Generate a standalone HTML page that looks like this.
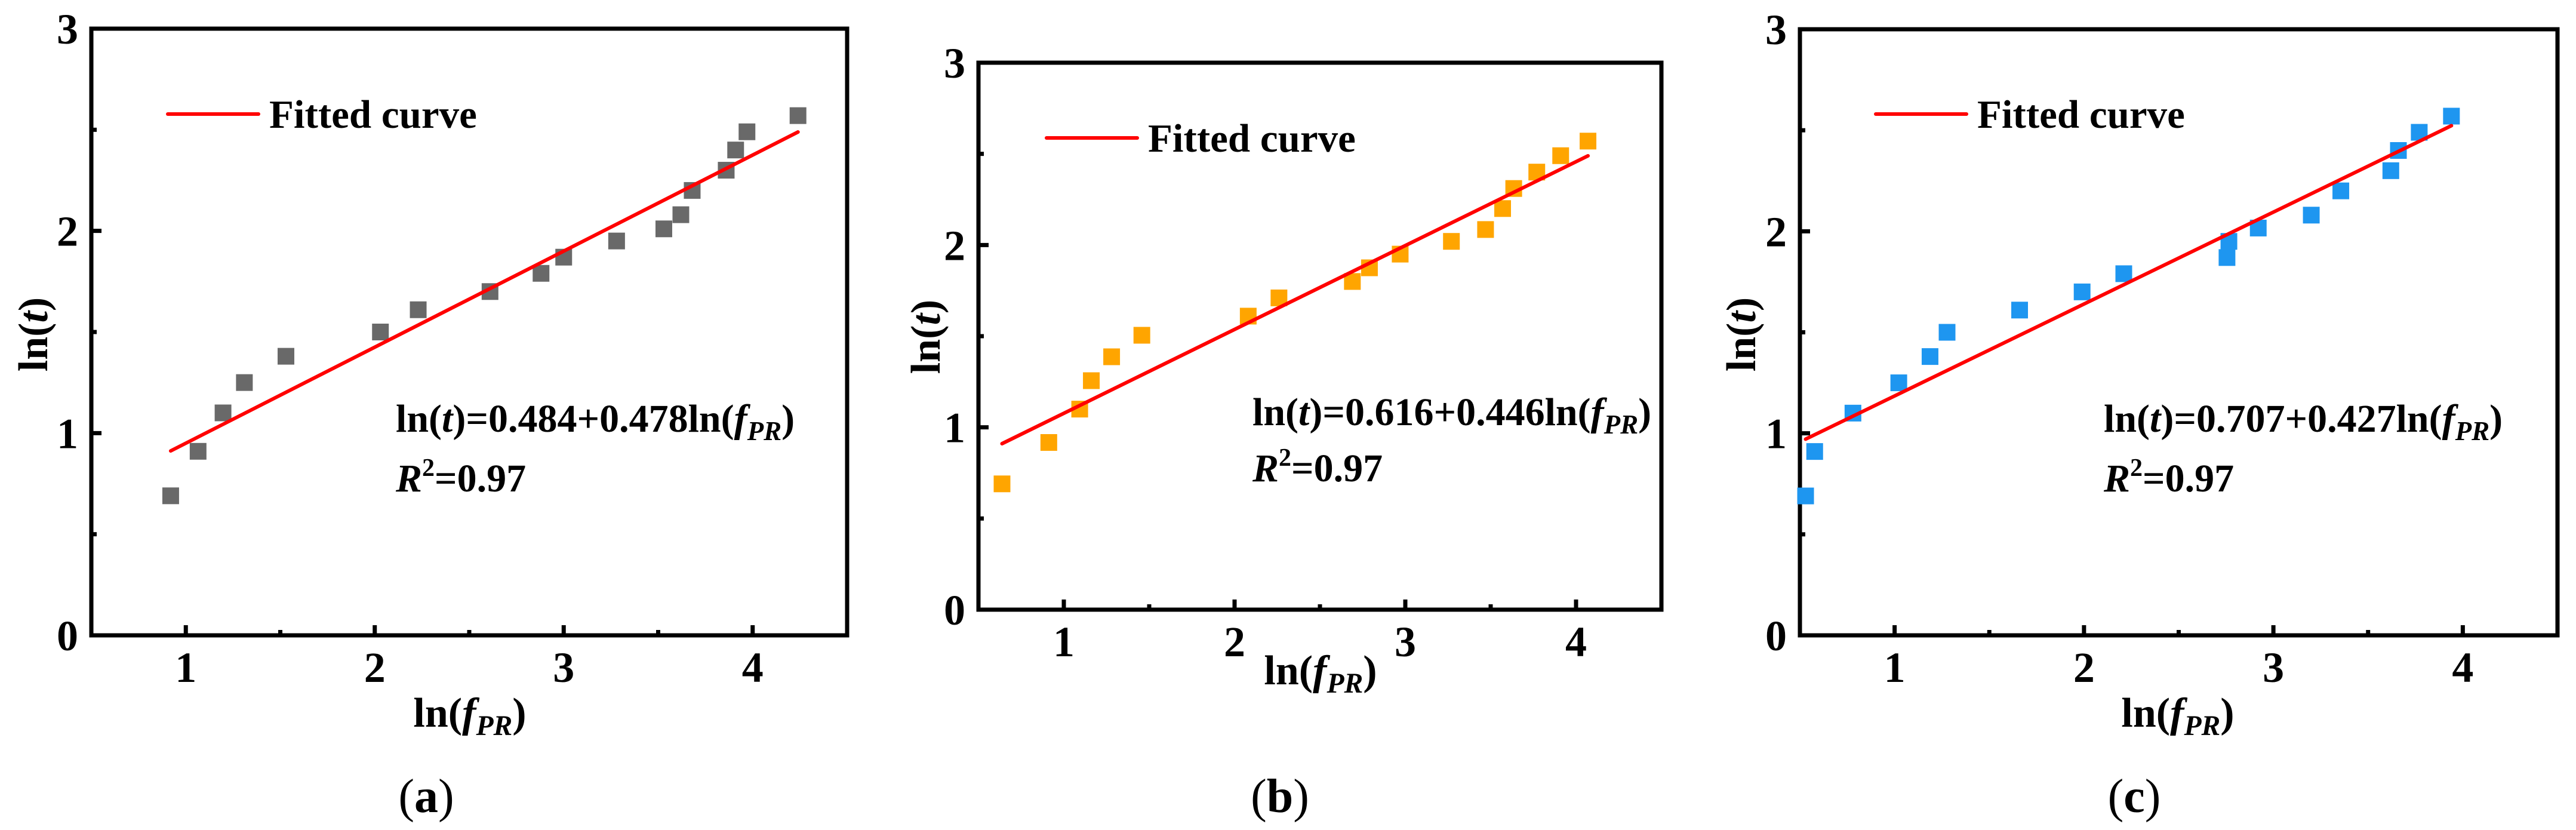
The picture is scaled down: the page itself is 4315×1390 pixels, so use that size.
<!DOCTYPE html>
<html><head><meta charset="utf-8"><style>
html,body{margin:0;padding:0;background:#fff;}
svg{display:block;font-family:"Liberation Serif",serif;}
</style></head><body>
<svg id="fig" width="4315" height="1390" viewBox="0 0 4315 1390" xmlns="http://www.w3.org/2000/svg"></svg>
<script>
// ---- data ----
const xA = [0.92,1.065,1.197,1.31,1.53,2.03,2.23,2.61,2.88,3.0,3.28,3.53,3.62,3.68,3.86,3.91,3.97,4.24];
const yA = [0.69,0.91,1.10,1.25,1.38,1.50,1.61,1.70,1.79,1.87,1.95,2.01,2.08,2.20,2.30,2.40,2.49,2.57];
const xB = [0.638,0.912,1.093,1.161,1.28,1.457,2.08,2.26,2.69,2.79,2.97,3.27,3.47,3.57,3.635,3.77,3.91,4.07];
const yB = [0.69,0.917,1.10,1.256,1.387,1.505,1.61,1.71,1.80,1.875,1.95,2.02,2.085,2.20,2.31,2.40,2.49,2.57];
const xC = [0.53,0.578,0.78,1.022,1.187,1.277,1.66,1.99,2.21,2.755,2.765,2.92,3.2,3.356,3.62,3.66,3.77,3.94];
const yC = [0.69,0.91,1.10,1.25,1.38,1.50,1.61,1.70,1.79,1.87,1.95,2.016,2.08,2.20,2.30,2.40,2.49,2.57];
// fitted line as drawn [intercept, slope]
const fitA = [0.475,0.475], fitB = [0.617,0.46], fitC = [0.73,0.455];
const eqA = ["0.484","0.478"], eqB = ["0.616","0.446"], eqC = ["0.707","0.427"];
const xTicks = [1,2,3,4];
const yTicks = [0,1,2,3];
const r2Label = "0.97";

const NS = "http://www.w3.org/2000/svg";
const svg = document.getElementById('fig');
function mk(tag, attrs, parent){
  const e = document.createElementNS(NS, tag);
  for (const k in attrs) e.setAttribute(k, attrs[k]);
  (parent||svg).appendChild(e);
  return e;
}
function lnfpr(parent, x, y, size, anchor){
  const t = mk('text',{x:x,y:y,'font-size':size,'font-weight':'bold','text-anchor':anchor||'middle'},parent);
  t.innerHTML = 'ln(<tspan font-style="italic">f</tspan><tspan font-style="italic" font-size="'+(size*0.68)+'" dy="14">PR</tspan><tspan dy="-14">)</tspan>';
  return t;
}
function panel(cfg){
  const g = mk('g',{});
  
  
  const X = v => cfg.L + (v-0.5)/(4.0)*(cfg.R-cfg.L);
  const Y = v => cfg.B - v/3*(cfg.B-cfg.T);
  for (let v=1; v<=4.01; v+=0.5){
    const major = Math.abs(v-Math.round(v))<1e-6;
    const tk = mk('line',{x1:X(v),x2:X(v),y1:cfg.B,y2:cfg.B-(major?17:9),stroke:'#000','stroke-width':7},g);
    
    
  }
  for (let v=0.5; v<3; v+=0.5){
    const major = Math.abs(v-Math.round(v))<1e-6;
    const tk = mk('line',{x1:cfg.L,x2:cfg.L+(major?17:9),y1:Y(v),y2:Y(v),stroke:'#000','stroke-width':7},g);
    
    
  }
  xTicks.forEach(v=>{
    const t = mk('text',{x:X(v),y:cfg.B+78,'font-size':72,'font-weight':'bold','text-anchor':'middle'},g);
    t.textContent = v;
    
    
  });
  yTicks.forEach(v=>{
    const t = mk('text',{x:cfg.L-22,y:Y(v)+25,'font-size':72,'font-weight':'bold','text-anchor':'end'},g);
    t.textContent = v;
    
    
  });
  const fr = mk('rect',{x:cfg.L,y:cfg.T,width:cfg.R-cfg.L,height:cfg.B-cfg.T,fill:'none',stroke:'#000','stroke-width':7},g);
  
  
  cfg.xs.forEach((xv,i)=>{
    const s = 28;
    const p = mk('rect',{x:X(xv)-s/2,y:Y(cfg.ys[i])-s/2,width:s,height:s,fill:cfg.color},g);
    
    
  });
  const x0 = cfg.xs[0], x1 = cfg.xs[cfg.xs.length-1];
  const fl = mk('line',{x1:X(x0),y1:Y(cfg.fit[0]+cfg.fit[1]*x0),x2:X(x1),y2:Y(cfg.fit[0]+cfg.fit[1]*x1),stroke:'#ff0000','stroke-width':6,'stroke-linecap':'round'},g);
  
  
  const lg = mk('line',{x1:cfg.legX,x2:cfg.legX+152,y1:cfg.legY,y2:cfg.legY,stroke:'#ff0000','stroke-width':6,'stroke-linecap':'round'},g);
  
  
  const lt = mk('text',{x:cfg.legX+170,y:cfg.legY+23,'font-size':67,'font-weight':'bold'},g);
  lt.textContent = 'Fitted curve';
  
  
  const eq = mk('text',{x:cfg.eqX,y:cfg.eqY,'font-size':66,'font-weight':'bold'},g);
  eq.innerHTML = 'ln(<tspan font-style="italic">t</tspan>)='+cfg.eq[0]+'+'+cfg.eq[1]+'ln(<tspan font-style="italic">f</tspan><tspan font-style="italic" font-size="45" dy="14">PR</tspan><tspan dy="-14">)</tspan>';
  
  
  const r2 = mk('text',{x:cfg.eqX,y:cfg.eqY+cfg.r2dy,'font-size':66,'font-weight':'bold'},g);
  r2.innerHTML = '<tspan font-style="italic">R</tspan><tspan font-size="42" dy="-26">2</tspan><tspan dy="26">='+r2Label+'</tspan>';
  
  
  const xt = lnfpr(g, cfg.xtX, cfg.xtY, 70);
  
  
  const yt = mk('text',{x:0,y:0,'font-size':70,'font-weight':'bold','text-anchor':'middle',transform:'translate('+(cfg.ytX+24)+','+cfg.ytY+') rotate(-90)'},g);
  yt.innerHTML = 'ln(<tspan font-style="italic">t</tspan>)';
  
  
  const sc = mk('text',{x:cfg.capX,y:1360,'font-size':80,'text-anchor':'middle'},g);
  sc.innerHTML = '(<tspan font-weight="bold">'+cfg.id+'</tspan>)';
  
  
}
panel({id:'a',L:153,R:1419,T:48,B:1064,xs:xA,ys:yA,fit:fitA,eq:eqA,color:'#696969',
  legX:281,legY:191,eqX:663,eqY:723,r2dy:100,xtX:787,xtY:1217,ytX:55,ytY:560,capX:714});
panel({id:'b',L:1639,R:2783,T:105,B:1021,xs:xB,ys:yB,fit:fitB,eq:eqB,color:'#ffa500',
  legX:1753,legY:231,eqX:2098,eqY:712,r2dy:94,xtX:2212,xtY:1146,ytX:1550,ytY:564,capX:2144});
panel({id:'c',L:3015,R:4284,T:49,B:1064,xs:xC,ys:yC,fit:fitC,eq:eqC,color:'#1e96f0',
  legX:3142,legY:191,eqX:3524,eqY:723,r2dy:100,xtX:3648,xtY:1217,ytX:2916,ytY:560,capX:3575});
</script>
</body></html>
